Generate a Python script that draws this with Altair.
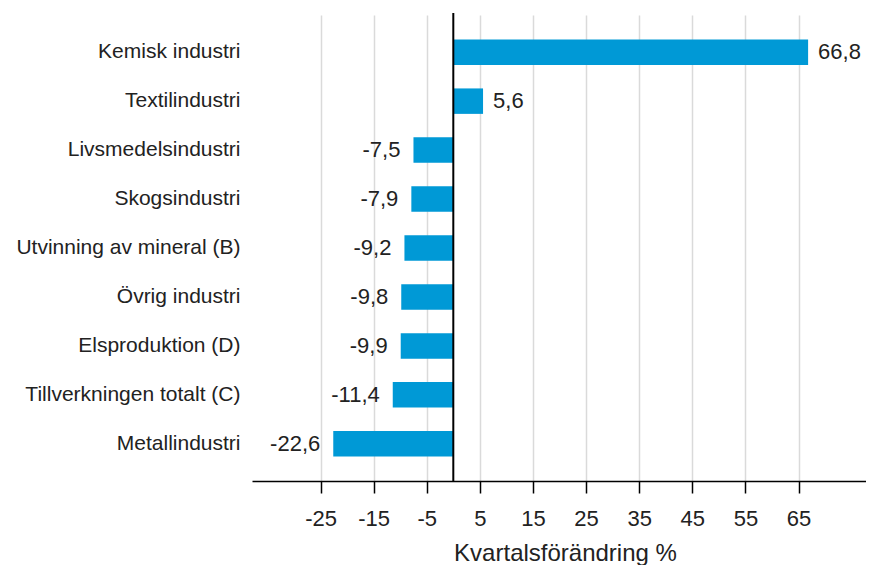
import altair as alt
import pandas as pd

categories = [
    "Kemisk industri",
    "Textilindustri",
    "Livsmedelsindustri",
    "Skogsindustri",
    "Utvinning av mineral (B)",
    "Övrig industri",
    "Elsproduktion (D)",
    "Tillverkningen totalt (C)",
    "Metallindustri",
]
values = [66.8, 5.6, -7.5, -7.9, -9.2, -9.8, -9.9, -11.4, -22.6]
tick_values = [-25, -15, -5, 5, 15, 25, 35, 45, 55, 65]
x_title = "Kvartalsförändring %"

df = pd.DataFrame({"cat": categories, "val": values})
df["lbl"] = [f"{v:.1f}".replace(".", ",") for v in values]

FONT = "Liberation Sans"
TXT = "#222222"

xscale = alt.Scale(domain=[-37.9, 77.7], nice=False, zero=False)
yscale = alt.Scale(paddingInner=0.48, paddingOuter=0.5)

base = alt.Chart(df)

bars = base.mark_bar(color="#0099d6").encode(
    y=alt.Y(
        "cat:N",
        sort=categories,
        scale=yscale,
        axis=alt.Axis(
            title=None, domain=False, ticks=False, tickSize=0, grid=False,
            labelPadding=12, labelFontSize=21, labelColor=TXT, labelFont=FONT,
            labelLimit=400,
        ),
    ),
    x=alt.X(
        "val:Q",
        scale=xscale,
        axis=alt.Axis(
            values=tick_values, title=x_title, grid=True,
            gridColor="#dadada", gridWidth=1.5,
            domainColor="#000000", domainWidth=1.5,
            tickColor="#000000", tickWidth=1.5, tickSize=12,
            labelPadding=15, labelFontSize=22, labelColor=TXT, labelFont=FONT,
            labelFlush=False, labelOverlap=False,
            labelExpr="'' + datum.value",
            titleFontSize=24, titleFontWeight="normal", titleColor=TXT,
            titleFont=FONT, titleX=313, titleY=79, titleBaseline="alphabetic",
        ),
    ),
    x2=alt.datum(0),
)

pos_lbl = base.transform_filter("datum.val >= 0").mark_text(
    align="left", baseline="middle", dx=10, fontSize=22, font=FONT, color=TXT
).encode(y=alt.Y("cat:N", sort=categories), x="val:Q", text="lbl:N")

neg_lbl = base.transform_filter("datum.val < 0").mark_text(
    align="right", baseline="middle", dx=-13, fontSize=22, font=FONT, color=TXT
).encode(y=alt.Y("cat:N", sort=categories), x="val:Q", text="lbl:N")

zero_rule = alt.Chart(pd.DataFrame({"z": [0]})).mark_rule(
    color="#000000", strokeWidth=2
).encode(x="z:Q", y=alt.value(-2), y2=alt.value(466))

chart = (
    alt.layer(bars, zero_rule, pos_lbl, neg_lbl)
    .properties(
        width=614,
        height=466,
        autosize=alt.AutoSizeParams(type="none"),
        padding={"left": 244, "top": 7, "right": 0, "bottom": 84},
    )
    .configure(font=FONT)
    .configure_view(stroke=None)
)

chart.save("out.html", embed_options={"renderer": "svg", "actions": False})
